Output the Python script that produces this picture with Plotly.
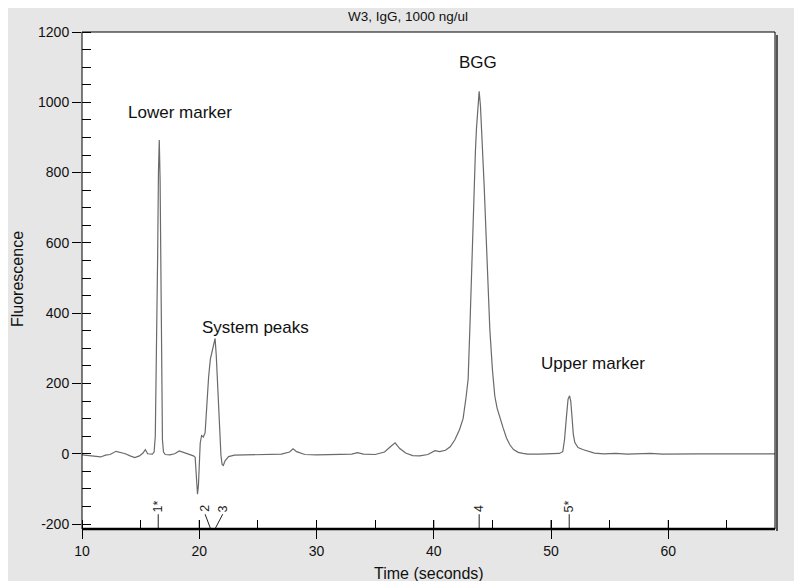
import plotly.graph_objects as go

# ---- data ----
time_s = [
    10.0, 10.6, 11.2, 11.6, 12.0, 12.4, 12.9, 13.3, 13.7, 14.1, 14.5, 14.9, 15.2, 15.4, 15.6, 16.0,
    16.15, 16.25, 16.37, 16.45, 16.52, 16.59, 16.66, 16.72, 16.8, 16.86, 16.95, 17.1, 17.5, 17.9,
    18.3, 18.7, 19.1, 19.5, 19.65, 19.75, 19.85, 19.93, 20.0, 20.08, 20.2, 20.35, 20.5, 20.65, 20.8,
    20.95, 21.1, 21.2, 21.35, 21.45, 21.55, 21.65, 21.75, 21.85, 21.95, 22.05, 22.2, 22.5, 23.0,
    24.0, 25.0, 26.0, 27.0, 27.7, 28.0, 28.3, 29.0, 30.0, 31.0, 32.0, 33.0, 33.5, 34.0, 35.0, 35.8,
    36.3, 36.7, 37.1, 37.6, 38.2, 38.8, 39.5, 40.1, 40.5, 41.0, 41.4, 41.8, 42.2, 42.5, 42.75, 42.93,
    43.1, 43.2, 43.3, 43.42, 43.55, 43.64, 43.75, 43.87, 43.98, 44.08, 44.16, 44.3, 44.44, 44.6,
    44.78, 45.0, 45.2, 45.4, 45.64, 45.9, 46.2, 46.5, 46.8, 47.2, 47.6, 48.0, 49.0, 50.0, 50.7,
    51.0, 51.15, 51.3, 51.45, 51.58, 51.68, 51.8, 51.9, 52.03, 52.3, 52.7, 53.2, 53.7, 54.5, 55.5,
    56.5, 57.5, 58.5, 59.5, 60.5, 61.5, 62.5, 63.5, 64.5, 65.5, 66.5, 67.5, 68.5, 69.1,
]
fluorescence = [
    -3, -5, -8, -9, -4, -2, 7, 4, 0, -6, -11, -6, 2, 12, 0, -1,
    5, 50, 288, 560, 800, 893, 780, 600, 290, 40, 5, -2, -3, 0,
    8, 4, 0, -6, -10, -50, -115, -90, -20, 30, 52, 48, 60, 150, 220,
    270, 290, 305, 328, 280, 200, 110, 40, -5, -30, -33, -20, -8, -4,
    -3, -2, -3, -1, 5, 14, 6, -2, -3, -2, -2, -1, 3, -1, -2, 5,
    20, 31, 15, 2, -5, -6, -2, 9, 6, 10, 20, 40, 69, 100, 160, 212,
    380, 497, 620, 735, 860, 925, 990, 1031, 990, 930, 877, 760, 640, 490,
    354, 240, 165, 130, 100, 75, 45, 25, 12, 4, 1, -1, -1, 0, 1,
    6, 40, 100, 155, 165, 150, 100, 55, 32, 18, 12, 6, 2, 0, 1,
    -1, 0, 1, -1, 0, 1, 0, 0, -1, 0, 0, 0, 0, 0,
]

peak_times = [16.5, 20.97, 21.34, 43.87, 51.55]
peak_labels = ["1*", "2", "3", "4", "5*"]
peak_label_times = [16.5, 20.5, 22.0, 43.87, 51.55]

names = ["Lower marker", "System peaks", "BGG", "Upper marker"]
name_x = [18.35, 24.8, 43.8, 53.56]
name_y = [970, 359, 1112, 257]

x_ticks = [10, 20, 30, 40, 50, 60]
y_ticks = [-200, 0, 200, 400, 600, 800, 1000, 1200]
y_tick_text = ["-200", "0", "200", "400", "600", "800", "1000", "1200"]
x_range = [10, 69.1]
y_range = [-214, 1200]

FONT = "Liberation Sans, Arial, sans-serif"
# the page body adds an 8 px margin; figure is sized so the plot lands where the reference has it
OFF = 8
W, H = 802 - OFF, 581 - OFF
PL, PR, PT, PB = 82, 775, 32, 529          # plot-area edges in screen pixels
ML, MR, MT, MB = PL - OFF, W - (PR - OFF), PT - OFF, H - (PB - OFF)
PW, PH = PR - PL, PB - PT


def px(sx):
    return (sx - PL) / PW


def py(sy):
    return (PB - sy) / PH


fig = go.Figure()
fig.add_trace(go.Scatter(x=time_s, y=fluorescence, mode="lines",
                         line=dict(color="#6a6a6a", width=1.2), hoverinfo="skip",
                         showlegend=False))

shapes = []
annotations = []

# peak marker ticks along bottom
y_line_top = -172
for t_peak, t_lab, lab in zip(peak_times, peak_label_times, peak_labels):
    shapes.append(dict(type="line", xref="x", yref="y", x0=t_peak, x1=t_lab,
                       y0=y_range[0], y1=y_line_top, line=dict(color="#222", width=1)))
    annotations.append(dict(x=t_lab, y=y_line_top, xref="x", yref="y", text=lab,
                            showarrow=False, textangle=-90, xanchor="center", yanchor="bottom",
                            font=dict(family=FONT, size=12.5, color="#222"), yshift=0))

# inner half of the major x ticks (they cross the axis line)
for tv in x_ticks:
    shapes.append(dict(type="line", xref="x", yref="paper", x0=tv, x1=tv, y0=0, y1=9 / PH,
                       line=dict(color="black", width=1)))

for n, nx, ny in zip(names, name_x, name_y):
    annotations.append(dict(x=nx, y=ny, xref="x", yref="y", text=n, showarrow=False,
                            xanchor="center", yanchor="middle",
                            font=dict(family=FONT, size=17, color="#111")))

# title & axis titles
annotations.append(dict(x=px(408), y=py(16), xref="paper", yref="paper",
                        text="W3, IgG, 1000 ng/ul", showarrow=False,
                        xanchor="center", yanchor="middle",
                        font=dict(family=FONT, size=13.5, color="#111")))
annotations.append(dict(x=px(17), y=py(279), xref="paper", yref="paper",
                        text="Fluorescence", showarrow=False, textangle=-90,
                        xanchor="center", yanchor="middle",
                        font=dict(family=FONT, size=16, color="#111")))
annotations.append(dict(x=px(429), y=py(573), xref="paper", yref="paper",
                        text="Time (seconds)", showarrow=False,
                        xanchor="center", yanchor="middle",
                        font=dict(family=FONT, size=16, color="#111")))

# frame
shapes.append(dict(type="rect", xref="paper", yref="paper", x0=0, x1=1, y0=0, y1=1,
                   line=dict(color="black", width=1), layer="above"))
shapes.append(dict(type="line", xref="paper", yref="paper", x0=0, x1=1, y0=0, y1=0,
                   line=dict(color="black", width=2.5), layer="above"))
shapes.append(dict(type="line", xref="paper", yref="paper", x0=1 + 2 / PW, x1=1 + 2 / PW,
                   y0=-2 / PH, y1=1 - 3 / PH, line=dict(color="#555", width=2), layer="above"))

fig.update_layout(
    width=W, height=H,
    margin=dict(l=ML, r=MR, t=MT, b=MB, pad=0),
    paper_bgcolor="#e6e6e6", plot_bgcolor="white",
    shapes=shapes, annotations=annotations,
    showlegend=False,
    xaxis=dict(range=x_range, tickvals=x_ticks, ticks="outside", ticklen=9, tickcolor="black",
               showgrid=False, zeroline=False, showline=False,
               tickfont=dict(family=FONT, size=14, color="#111"),
               minor=dict(ticks="inside", dtick=5, ticklen=9, tickcolor="black", showgrid=False)),
    yaxis=dict(range=y_range, tickvals=y_ticks, ticktext=y_tick_text, ticks="outside",
               ticklen=9, tickcolor="black",
               showgrid=False, zeroline=False, showline=False,
               tickfont=dict(family=FONT, size=14, color="#111"),
               minor=dict(ticks="inside", dtick=50, ticklen=9, tickcolor="black", showgrid=False)),
)

fig.write_html("out.html")
